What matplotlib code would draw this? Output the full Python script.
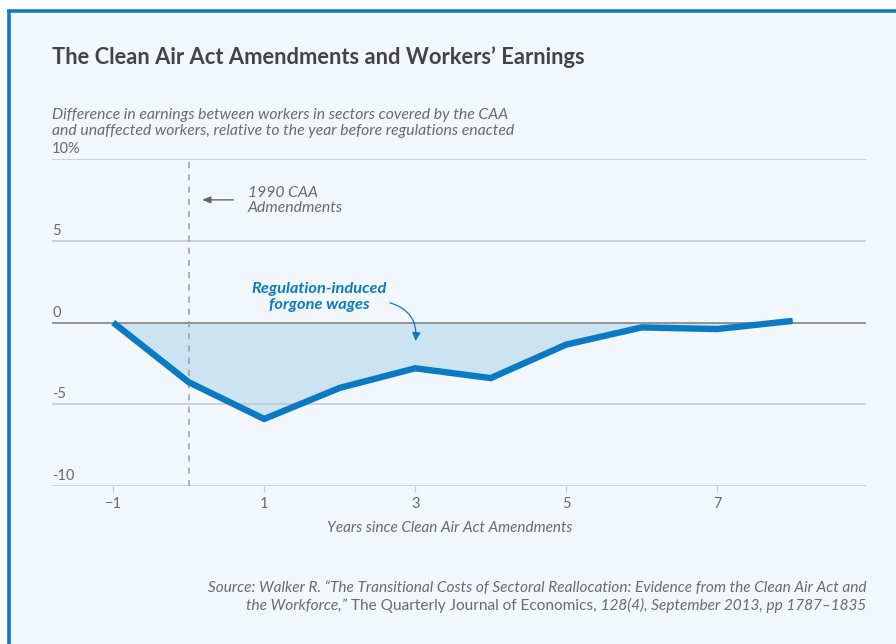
import matplotlib
matplotlib.use("Agg")
import matplotlib.pyplot as plt
from matplotlib.patches import Rectangle, FancyArrowPatch
from matplotlib.lines import Line2D
import numpy as np

years = [-1, 0, 1, 2, 3, 4, 5, 6, 7, 8]
earnings_diff = [0.0, -3.65, -5.9, -4.0, -2.8, -3.4, -1.35, -0.3, -0.4, 0.1]
y_ticks = [10, 5, 0, -5, -10]
y_tick_labels = ["10%", "5", "0", "-5", "-10"]
x_ticks = [-1, 1, 3, 5, 7]
x_tick_labels = ["\u22121", "1", "3", "5", "7"]

FONT = "Lato"
plt.rcParams['font.family'] = [FONT, 'DejaVu Sans']

W, H = 896, 644
fig = plt.figure(figsize=(W/100, H/100), dpi=100)
fig.patch.set_facecolor("white")

BG = "#f2f7fb"
BLUE = "#0a7bc2"
GRAY_TXT = "#6b6b6b"

def fx(px): return px / W
def fy(py): return 1 - py / H

# panel background and frame
fig.add_artist(Rectangle((fx(8), 0), 1, fy(11), transform=fig.transFigure,
                         facecolor=BG, edgecolor="none", zorder=0))
fig.add_artist(Line2D([fx(7), 1.0], [fy(11), fy(11)], transform=fig.transFigure,
                      color="#1479bf", lw=2.6, zorder=1, solid_capstyle="butt"))
fig.add_artist(Line2D([fx(8.5), fx(8.5)], [0, fy(10)], transform=fig.transFigure,
                      color="#1479bf", lw=2.6, zorder=1, solid_capstyle="butt"))

ax = fig.add_axes([fx(52), fy(486), fx(866) - fx(52), fy(159) - fy(486)])
ax.set_facecolor("none")
ax.set_xlim(-1.81, 8.97)
ax.set_ylim(-10, 10)
for s in ax.spines.values():
    s.set_visible(False)

# gridlines
for yv in y_ticks:
    col = "#8c8c8c" if yv == 0 else "#c4c6c8"
    lw = 1.3 if yv == 0 else 1.1
    ax.axhline(yv, color=col, lw=lw, zorder=2)

# tick labels above gridlines
for yv, lab in zip(y_ticks, y_tick_labels):
    ax.annotate(lab, xy=(0, yv), xycoords=("axes fraction", "data"),
                xytext=(0, 2), textcoords="offset points",
                ha="left", va="bottom", fontsize=10.5, color=GRAY_TXT)
ax.set_yticks([])
ax.set_xticks(x_ticks)
ax.set_xticklabels(x_tick_labels, fontsize=10.5, color=GRAY_TXT)
ax.tick_params(axis="x", length=4, color="#c4c6c8", pad=4)

# dashed line at year 0
ax.axvline(0, color="#9a9a9a", lw=1.1, ls=(0, (4, 4)), zorder=2)

# fill and line
x = np.array(years, dtype=float)
yv = np.array(earnings_diff, dtype=float)
ax.fill_between(x, yv, 0, interpolate=True,
                facecolor="#cce3f2", edgecolor="none", zorder=1)
ax.fill_between(x, np.maximum(yv, 0), 0, facecolor=BG, edgecolor="none", zorder=1.5)
ax.plot(x, yv, color=BLUE, lw=4.6, zorder=3, solid_joinstyle="miter",
        solid_capstyle="butt")

ax.set_xlabel("Years since Clean Air Act Amendments", fontsize=11,
              style="italic", color=GRAY_TXT, labelpad=7)
ax.xaxis.label.set_x((450 - 52) / 814)

# annotations
ax.text(0.78, 7.45, "1990 CAA\nAdmendments", fontsize=11.3, style="italic",
        color=GRAY_TXT, ha="left", va="center", linespacing=1.12)
ax.annotate("", xy=(0.14, 7.5), xytext=(0.63, 7.5),
            arrowprops=dict(arrowstyle="-|>,head_length=0.5,head_width=0.2",
                            color="#666666", lw=1.0))
ax.text(1.73, 1.56, "Regulation-induced\nforgone wages", fontsize=11.8,
        style="italic", weight="bold", color=BLUE, ha="center", va="center",
        linespacing=1.1)
ax.add_patch(FancyArrowPatch((2.63, 1.25), (3.0, -1.3),
                             connectionstyle="arc3,rad=-0.45",
                             arrowstyle="-|>,head_length=5,head_width=2.5",
                             color=BLUE, lw=0.9, zorder=4))

# title and subtitle
fig.text(fx(52), fy(57), "The Clean Air Act Amendments and Workers\u2019 Earnings",
         fontsize=15.75, weight="bold", color="#444444", ha="left", va="center")
fig.text(fx(52), fy(123),
         "Difference in earnings between workers in sectors covered by the CAA\n"
         "and unaffected workers, relative to the year before regulations enacted",
         fontsize=11.3, style="italic", color=GRAY_TXT, ha="left", va="center",
         linespacing=1.12)

# source (mixed styles), right aligned
SRC_FS = 11.1
fig.text(fx(866), fy(588),
         "Source: Walker R. \u201cThe Transitional Costs of Sectoral Reallocation: "
         "Evidence from the Clean Air Act and",
         fontsize=SRC_FS, style="italic", color=GRAY_TXT, ha="right", va="center")
t3 = fig.text(fx(866), fy(610), " 128(4), September 2013, pp 1787\u20131835",
              fontsize=SRC_FS, style="italic", color=GRAY_TXT, ha="right",
              va="baseline")
t2 = fig.text(0, 0, " The Quarterly Journal of Economics,", fontsize=SRC_FS,
              color=GRAY_TXT, ha="right", va="baseline")
t1 = fig.text(0, 0, "the Workforce,\u201d", fontsize=SRC_FS, style="italic",
              color=GRAY_TXT, ha="right", va="baseline")

fig.canvas.draw()
r = fig.canvas.get_renderer()
bb3 = t3.get_window_extent(r)
t2.set_position((bb3.x0 / fig.bbox.width, fy(610)))
fig.canvas.draw()
bb2 = t2.get_window_extent(r)
t1.set_position((bb2.x0 / fig.bbox.width, fy(610)))

fig.savefig("out.png", dpi=100, facecolor=fig.get_facecolor())
